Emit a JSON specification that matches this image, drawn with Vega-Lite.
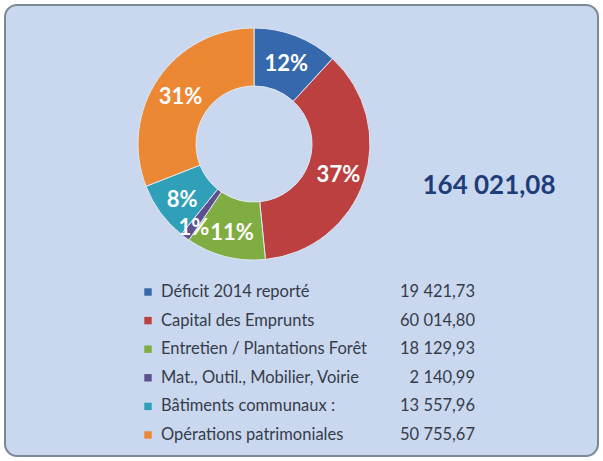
{
  "$schema": "https://vega.github.io/schema/vega-lite/v6.json",
  "width": 603,
  "height": 461,
  "autosize": {"type": "fit", "contains": "padding"},
  "padding": 5,
  "background": "#ffffff",
  "config": {
    "view": {"fill": "#c9d8ee", "stroke": "#7d8896", "strokeWidth": 2, "cornerRadius": 12},
    "locale": {"number": {"decimal": ",", "thousands": " ", "grouping": [3], "currency": ["", " €"]}},
    "font": "Lato"
  },
  "data": {
    "values": [
      {"cat": "Déficit 2014 reporté", "value": 19421.73, "pct": 0.12, "order": 1},
      {"cat": "Capital des Emprunts", "value": 60014.80, "pct": 0.37, "order": 2},
      {"cat": "Entretien / Plantations Forêt", "value": 18129.93, "pct": 0.11, "order": 3},
      {"cat": "Mat., Outil., Mobilier, Voirie", "value": 2140.99, "pct": 0.01, "order": 4},
      {"cat": "Bâtiments communaux :", "value": 13557.96, "pct": 0.08, "order": 5},
      {"cat": "Opérations patrimoniales", "value": 50755.67, "pct": 0.31, "order": 6}
    ]
  },
  "layer": [
    {
      "mark": {"type": "arc", "innerRadius": 58, "outerRadius": 116, "x": 249, "y": 139, "stroke": "#dfe8f4", "strokeWidth": 1},
      "encoding": {
        "theta": {"field": "value", "type": "quantitative", "stack": true},
        "order": {"field": "order", "type": "quantitative"},
        "color": {
          "field": "cat", "type": "nominal", "legend": null,
          "scale": {
            "domain": ["Déficit 2014 reporté", "Capital des Emprunts", "Entretien / Plantations Forêt", "Mat., Outil., Mobilier, Voirie", "Bâtiments communaux :", "Opérations patrimoniales"],
            "range": ["#3668ad", "#bd4040", "#80ad42", "#5e4f8f", "#2fa0b8", "#ec8733"]
          }
        }
      }
    },
    {
      "mark": {"type": "text", "radius": 89, "x": 249, "y": 142, "font": "Lato", "fontWeight": "bold", "fontSize": 22, "fill": "#ffffff", "baseline": "middle"},
      "encoding": {
        "theta": {"field": "value", "type": "quantitative", "stack": true},
        "order": {"field": "order", "type": "quantitative"},
        "text": {"condition": {"test": "datum.order == 4", "value": ""}, "field": "pct", "type": "quantitative", "format": ".0%"}
      }
    },
    {
      "mark": {"type": "text", "radius": 101, "x": 249, "y": 142, "font": "Lato", "fontWeight": "bold", "fontSize": 22, "fill": "#ffffff", "baseline": "middle"},
      "encoding": {
        "theta": {"field": "value", "type": "quantitative", "stack": true},
        "order": {"field": "order", "type": "quantitative"},
        "text": {"condition": {"test": "datum.order != 4", "value": ""}, "field": "pct", "type": "quantitative", "format": ".0%"}
      }
    },
    {
      "transform": [{"aggregate": [{"op": "sum", "field": "value", "as": "total"}]}],
      "mark": {"type": "text", "x": 484, "y": 181, "font": "Lato", "fontWeight": "bold", "fontSize": 26, "fill": "#1f3c7a", "align": "center", "baseline": "middle"},
      "encoding": {
        "text": {"field": "total", "type": "quantitative", "format": ",.2f"}
      }
    },
    {
      "mark": {"type": "square", "x": 143, "size": 55, "filled": true, "opacity": 1},
      "encoding": {
        "y": {"field": "cat", "type": "nominal", "axis": null,
          "scale": {"type": "point", "padding": 0, "range": [287, 430],
            "domain": ["Déficit 2014 reporté", "Capital des Emprunts", "Entretien / Plantations Forêt", "Mat., Outil., Mobilier, Voirie", "Bâtiments communaux :", "Opérations patrimoniales"]}},
        "color": {"field": "cat", "type": "nominal", "legend": null}
      }
    },
    {
      "mark": {"type": "text", "x": 156, "align": "left", "baseline": "middle", "font": "Lato", "fontSize": 16.5, "fill": "#363c4a"},
      "encoding": {
        "y": {"field": "cat", "type": "nominal", "axis": null},
        "text": {"field": "cat", "type": "nominal"}
      }
    },
    {
      "mark": {"type": "text", "x": 470, "align": "right", "baseline": "middle", "font": "Lato", "fontSize": 16.5, "fill": "#363c4a"},
      "encoding": {
        "y": {"field": "cat", "type": "nominal", "axis": null},
        "text": {"field": "value", "type": "quantitative", "format": ",.2f"}
      }
    }
  ]
}
